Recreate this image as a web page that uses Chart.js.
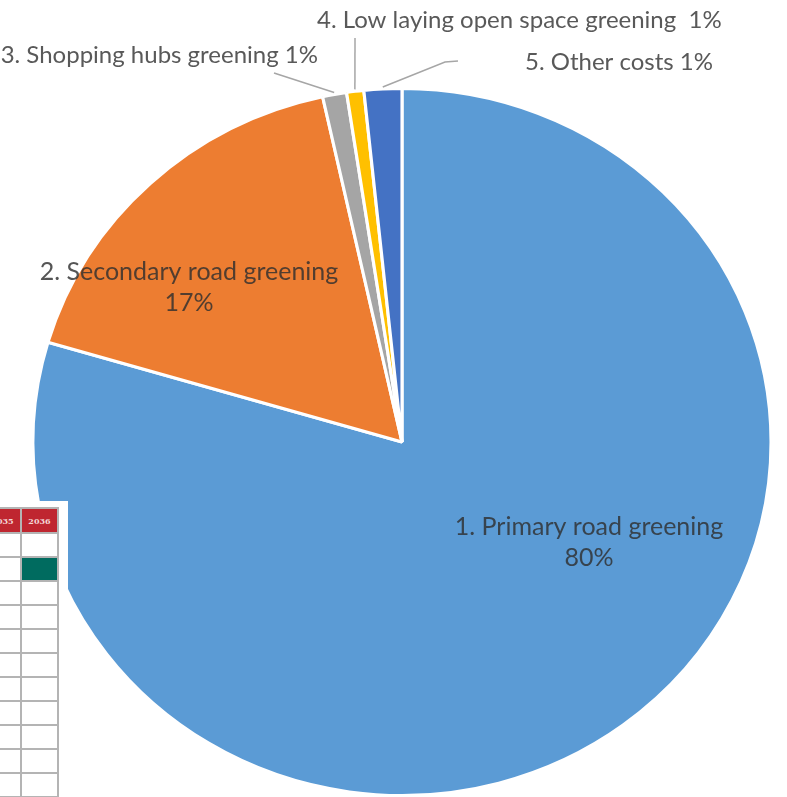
<!DOCTYPE html>
<html>
<head>
<meta charset="utf-8">
<script src="https://cdn.jsdelivr.net/npm/chart.js@4"></script>
<style>
  html, body { margin: 0; padding: 0; background: #fff; overflow: hidden; }
  #wrap { position: relative; width: 787px; height: 797px; overflow: hidden; }
  #pie { position: absolute; left: 0; top: 0; }
  #tbl { position: absolute; left: 0; top: 501px; width: 68px; height: 296px; background: #fff; overflow: hidden; }
  #tbl table { position: absolute; left: -17px; top: 6px; width: 76px; table-layout: fixed; border-collapse: collapse; }
  #tbl td { height: 22px; border: 2px solid #b4b4b4; padding: 0; }
  #tbl th { height: 23px; background: #bf2630; color: #f3d6d6; font: bold 8px "DejaVu Serif"; border: 2px solid #b4b4b4; padding: 0; }
  #tbl td.fill { background: #006b5f; }
</style>
</head>
<body>
<div id="wrap">
  <canvas id="pie" width="787" height="900"></canvas>
  <div id="tbl">
    <table>
      <tr><th>2035</th><th>2036</th></tr>
      <tr><td></td><td></td></tr>
      <tr><td></td><td class="fill"></td></tr>
      <tr><td></td><td></td></tr>
      <tr><td></td><td></td></tr>
      <tr><td></td><td></td></tr>
      <tr><td></td><td></td></tr>
      <tr><td></td><td></td></tr>
      <tr><td></td><td></td></tr>
      <tr><td></td><td></td></tr>
      <tr><td></td><td></td></tr>
      <tr><td></td><td></td></tr>
      <tr><td></td><td></td></tr>
    </table>
  </div>
</div>
<script>
// slices, clockwise from 12 o'clock
var categories = [
  '1. Primary road greening',
  '2. Secondary road greening',
  '3. Shopping hubs greening',
  '4. Low laying open space greening ',
  '5. Other costs'
];
var shares = [79.55, 17.0, 1.05, 0.75, 1.65];
var pctLabels = ['80%', '17%', '1%', '1%', '1%'];
var sliceColors = ['#5b9bd5', '#ed7d31', '#a5a5a5', '#ffc000', '#4472c4'];

// the original pie is a bit wider than tall
var stretchX = 1.044;

// where each label goes; inside ones are two lines, outside ones get a leader line
var labelSpots = [
  { x: 589, y: 527 },
  { x: 189, y: 272 },
  { x: 318, y: 55, align: 'right', lead: [[274, 73]] },
  { x: 317, y: 20, align: 'left', lead: [[355, 38]] },
  { x: 525, y: 62, align: 'left', lead: [[458, 61], [445, 62]] }
];

var stretchPlugin = {
  id: 'stretch',
  beforeDatasetsDraw: function(chart) {
    var arc = chart.getDatasetMeta(0).data[0];
    var ctx = chart.ctx;
    ctx.save();
    ctx.translate(arc.x, arc.y);
    ctx.scale(stretchX, 1);
    ctx.translate(-arc.x, -arc.y);
  },
  afterDatasetsDraw: function(chart) {
    chart.ctx.restore();
  }
};

var labelPlugin = {
  id: 'sliceLabels',
  afterDraw: function(chart) {
    var ctx = chart.ctx;
    var arcs = chart.getDatasetMeta(0).data;
    ctx.save();
    ctx.textBaseline = 'middle';
    labelSpots.forEach(function(s, i) {
      var arc = arcs[i];
      if (s.lead) {
        // leader from the text to the middle of the slice edge
        var mid = (arc.startAngle + arc.endAngle) / 2;
        var ex = arc.x + Math.cos(mid) * (arc.outerRadius + 2) * stretchX;
        var ey = arc.y + Math.sin(mid) * (arc.outerRadius + 2);
        ctx.strokeStyle = '#a6a6a6';
        ctx.lineWidth = 1.5;
        ctx.beginPath();
        ctx.moveTo(s.lead[0][0], s.lead[0][1]);
        for (var k = 1; k < s.lead.length; k++) ctx.lineTo(s.lead[k][0], s.lead[k][1]);
        ctx.lineTo(ex, ey);
        ctx.stroke();
        ctx.font = '24px Lato';
        ctx.fillStyle = '#595959';
        ctx.textAlign = s.align;
        ctx.fillText(categories[i] + ' ' + pctLabels[i], s.x, s.y);
      } else {
        ctx.font = '25px Lato';
        ctx.fillStyle = 'rgba(48,48,48,0.82)';
        ctx.textAlign = 'center';
        ctx.fillText(categories[i], s.x, s.y);
        ctx.fillText(pctLabels[i], s.x, s.y + 31);
      }
    });
    ctx.restore();
  }
};

new Chart(document.getElementById('pie'), {
  type: 'pie',
  data: {
    labels: categories,
    datasets: [{
      data: shares,
      backgroundColor: sliceColors,
      borderColor: '#ffffff',
      borderWidth: 3
    }]
  },
  options: {
    responsive: false,
    animation: false,
    layout: { padding: { left: 47, right: 30, top: 87, bottom: 103 } },
    plugins: {
      legend: { display: false },
      tooltip: { enabled: false }
    }
  },
  plugins: [stretchPlugin, labelPlugin]
});
</script>
</body>
</html>
